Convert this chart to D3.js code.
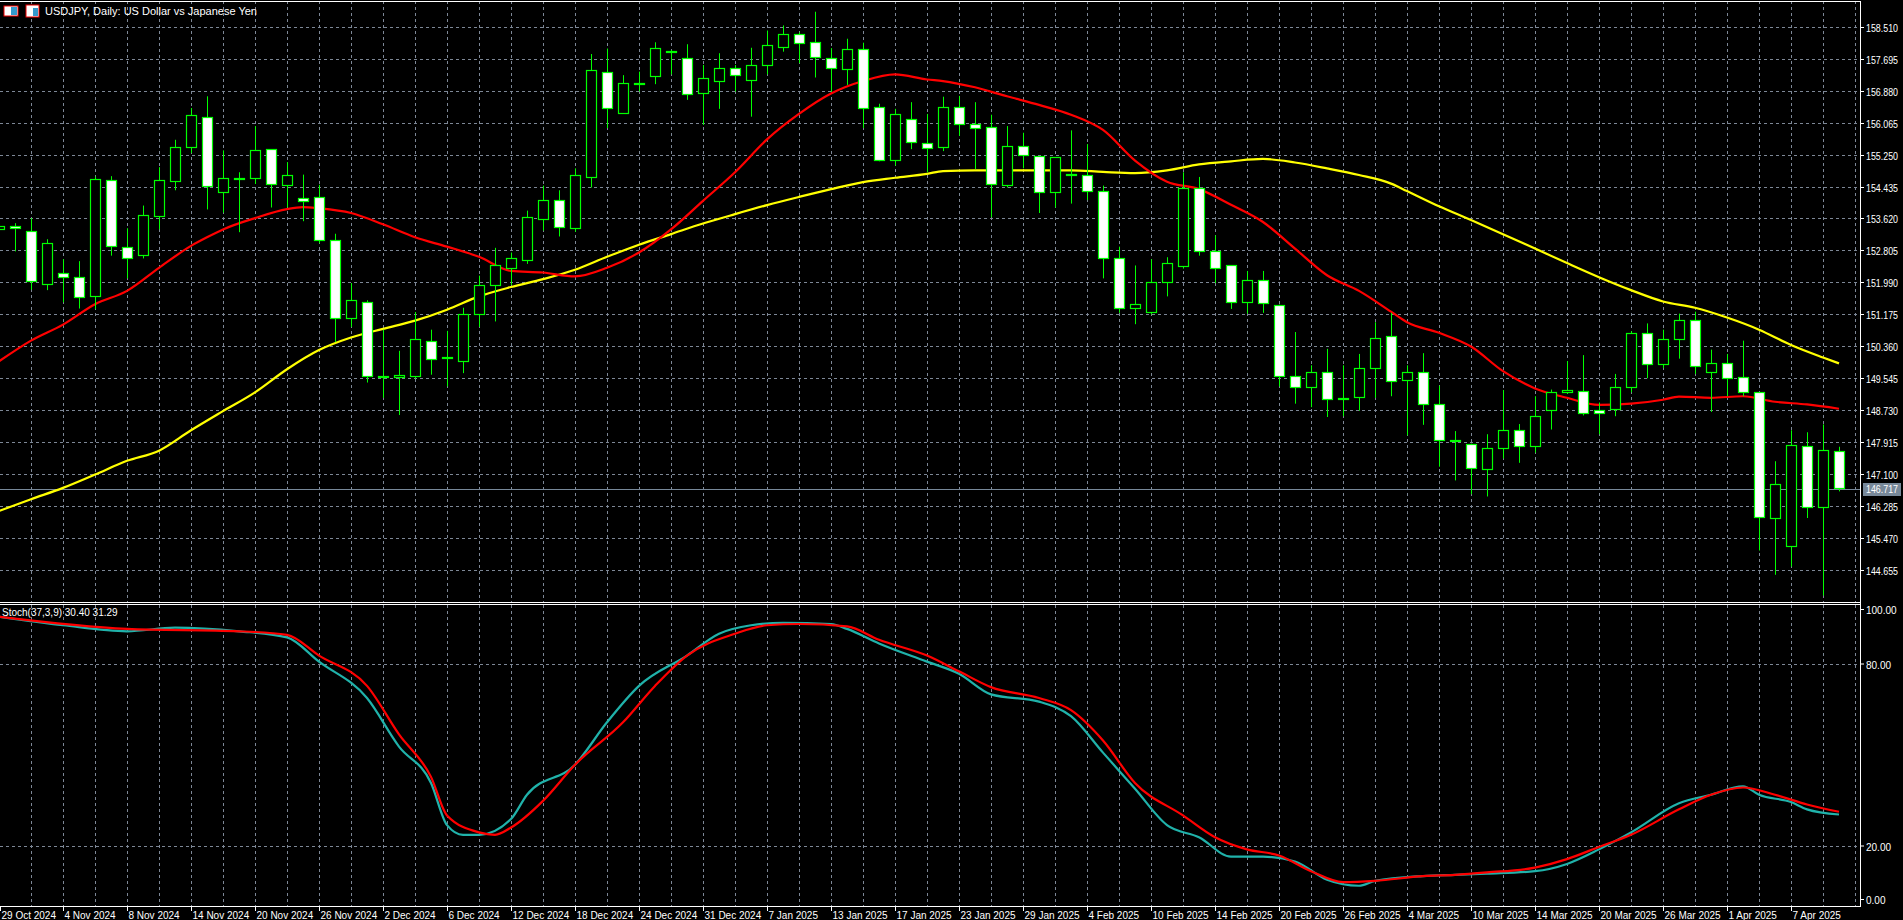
<!DOCTYPE html>
<html><head><meta charset="utf-8">
<script src="https://cdn.jsdelivr.net/npm/d3@7"></script>
<style>html,body{margin:0;padding:0;background:#000;overflow:hidden}svg{display:block}</style>
</head><body>
<script>
const openP=[153.36,153.42,153.29,151.95,152.24,152.12,151.62,154.60,152.90,152.69,153.67,154.56,155.44,156.20,154.29,154.65,154.65,155.39,154.49,154.15,154.18,153.06,151.07,151.49,149.58,149.58,149.58,150.48,150.06,149.98,
151.17,151.92,152.34,152.56,153.61,154.08,153.37,154.66,157.37,156.31,157.07,157.25,157.89,157.73,156.82,157.13,157.47,157.14,157.53,158.02,158.34,158.12,157.71,157.46,157.96,156.46,155.11,156.15,155.56,155.44,
156.46,156.03,155.95,154.47,155.46,155.21,154.29,154.75,154.74,154.32,152.60,151.33,151.22,151.99,152.41,154.39,152.78,152.42,151.48,152.04,151.42,149.60,149.31,149.69,149.04,149.04,149.79,150.63,149.49,
149.69,148.87,147.96,147.87,147.21,147.75,148.21,147.81,148.72,149.18,149.22,148.74,148.74,149.31,150.69,149.89,150.53,151.02,149.70,149.94,149.56,149.18,145.99,145.25,147.80,146.24,147.67];
const highP=[153.60,153.50,153.63,153.09,152.58,152.53,154.69,154.70,153.37,153.95,154.93,155.63,156.44,156.74,155.36,154.80,155.98,155.39,155.06,154.74,154.48,153.23,151.97,151.53,150.78,150.24,151.23,150.78,150.75,151.34,
152.16,152.87,152.75,153.82,154.46,154.34,154.90,157.82,157.96,157.28,157.37,158.12,157.92,158.07,157.54,157.84,157.54,157.98,158.42,158.55,158.37,158.90,157.97,158.21,158.11,156.55,156.42,156.59,156.29,156.73,
156.75,156.59,156.27,155.98,155.81,155.21,155.19,155.87,155.52,154.46,152.90,152.42,152.58,152.63,154.80,154.68,153.19,152.42,152.28,152.28,151.42,150.72,149.87,150.29,149.87,150.16,150.97,151.21,149.87,
150.18,149.35,148.19,147.87,148.11,149.24,148.37,149.08,149.25,149.98,150.13,148.92,149.65,150.74,150.94,150.78,151.19,151.24,150.27,150.16,150.50,149.18,147.42,148.21,148.16,148.36,147.79];
const lowP=[153.20,152.78,151.80,151.79,151.48,151.32,151.31,152.67,152.09,152.60,153.34,154.34,155.29,153.85,153.77,153.27,154.50,153.90,153.90,153.55,152.99,150.46,150.85,149.43,149.04,148.60,149.53,149.63,149.33,149.67,
150.85,150.99,151.92,152.46,153.31,153.16,153.28,154.41,155.93,156.31,156.86,157.05,157.30,156.65,156.01,156.42,156.86,156.22,157.30,157.88,157.59,157.22,156.85,157.03,155.93,155.08,154.97,155.39,154.80,155.34,
155.73,154.88,153.65,154.41,154.90,153.76,153.90,154.00,154.09,152.09,151.21,150.92,151.17,151.63,152.34,152.67,151.97,151.31,151.19,151.21,149.33,148.89,148.80,148.55,148.57,148.71,149.04,149.08,148.08,
148.35,147.28,146.93,146.58,146.52,147.49,147.38,147.64,148.23,149.14,148.59,148.11,148.57,149.18,149.54,149.80,150.04,149.65,148.68,149.08,149.08,145.14,144.52,144.73,145.97,143.99,146.65];
const closeP=[153.43,153.36,152.02,152.99,152.13,151.62,154.62,152.91,152.61,153.70,154.60,155.44,156.25,154.44,154.65,154.66,155.36,154.49,154.74,154.08,153.07,151.07,151.53,149.61,149.60,149.62,150.53,150.02,150.07,151.17,
151.92,152.43,152.60,153.65,154.09,153.40,154.73,157.40,156.46,157.07,157.08,157.97,157.88,156.82,157.20,157.47,157.30,157.53,158.04,158.34,158.12,157.73,157.46,157.96,156.46,155.11,156.28,155.57,155.44,156.46,
156.03,155.93,154.50,155.46,155.22,154.29,155.19,154.76,154.32,152.61,151.33,151.43,151.99,152.48,154.39,152.77,152.34,151.48,152.04,151.46,149.61,149.31,149.69,148.99,149.02,149.79,150.56,149.49,149.69,
148.88,147.96,147.96,147.25,147.75,148.21,147.81,148.57,149.18,149.23,148.67,148.67,149.31,150.69,149.89,150.53,151.02,149.84,149.94,149.55,149.18,145.99,146.85,147.83,146.24,147.70,146.72];

const maFastIdx=[0,2,4,6,8,10,12,13,14,16,18,19,20,22,24,26,28,30,32,34,36,38,40,42,44,46,48,50,52,54,56,58,59,61,63,65,67,69,71,73,75,77,79,81,83,85,87,88,90,92,94,96,98,100,102,104,105,107,109,111,113,115];
const maFastVal=[149.97,150.50,150.91,151.43,151.77,152.36,152.92,153.14,153.34,153.63,153.86,153.91,153.88,153.76,153.47,153.14,152.90,152.64,152.28,152.24,152.14,152.36,152.75,153.34,154.07,154.80,155.64,156.29,156.81,157.13,157.30,157.17,157.13,156.97,156.74,156.52,156.27,155.88,155.10,154.56,154.37,153.97,153.53,152.85,152.17,151.77,151.24,150.97,150.70,150.35,149.72,149.28,149.04,148.86,148.89,148.99,149.07,149.04,149.08,148.94,148.87,148.76];
const maSlowIdx=[0,2,4,6,8,10,12,14,16,18,20,22,24,26,28,30,32,34,36,38,40,42,44,46,48,50,52,54,56,58,59,61,63,65,67,69,71,73,75,77,79,81,83,85,87,88,90,92,94,96,98,100,102,104,106,108,110,112,114,115];
const maSlowVal=[146.15,146.45,146.74,147.08,147.43,147.69,148.21,148.70,149.18,149.77,150.26,150.58,150.80,151.01,151.29,151.63,151.87,152.07,152.31,152.64,152.95,153.22,153.49,153.73,153.96,154.17,154.37,154.55,154.66,154.76,154.83,154.85,154.85,154.85,154.85,154.81,154.78,154.85,155.00,155.08,155.14,155.05,154.90,154.73,154.51,154.32,153.93,153.58,153.22,152.85,152.48,152.12,151.79,151.50,151.34,151.09,150.78,150.39,150.07,149.92];

const stMainIdx=[0,4,8,11,15,18,20,23,25,27,28,29,30,32,33,36,38,40,43,45,47,49,52,53,55,58,60,62,65,67,69,71,73,75,77,79,81,83,85,86,89,91,93,96,98,100,102,105,107,109,110,112,113,115];
const stMainVal=[95.6,92.8,90.8,92.0,90.8,88.8,80.8,68.8,52.8,40.8,26.9,23.7,23.7,28.9,36.9,46.8,60.8,72.8,82.8,90.0,92.8,93.6,93.2,91.6,86.8,80.8,76.8,70.0,67.6,62.8,50.8,38.9,26.9,22.9,16.5,16.5,14.9,8.9,6.9,8.5,10.1,10.5,10.9,11.7,14.1,18.9,24.5,34.1,36.9,39.7,36.9,34.5,32.1,30.4];
const stSigIdx=[0,8,15,18,20,23,25,27,28,30,31,32,34,36,39,41,43,46,48,50,53,55,58,60,62,65,67,69,71,74,76,78,80,82,84,86,89,91,93,96,98,100,102,105,107,109,111,113,115];
const stSigVal=[95.6,91.6,90.8,89.6,82.8,72.8,56.8,42.8,30.1,24.5,23.7,26.1,34.9,46.8,60.8,72.8,82.8,90.0,92.8,93.2,92.4,88.0,82.8,77.6,72.4,68.8,64.8,54.8,40.8,30.1,22.9,18.9,16.9,11.7,8.1,8.5,10.1,10.5,11.3,12.9,15.7,19.7,23.7,32.1,36.9,39.3,36.9,33.7,31.3];

const priceTicks=[158.510,157.695,156.880,156.065,155.250,154.435,153.620,152.805,151.990,151.175,150.360,149.545,148.730,147.915,147.100,146.285,145.470,144.655];
const stochTicks=[100,80,20,0];
const dateLabels=["29 Oct 2024","4 Nov 2024","8 Nov 2024","14 Nov 2024","20 Nov 2024","26 Nov 2024","2 Dec 2024","6 Dec 2024","12 Dec 2024","18 Dec 2024","24 Dec 2024","31 Dec 2024","7 Jan 2025","13 Jan 2025","17 Jan 2025","23 Jan 2025","29 Jan 2025","4 Feb 2025","10 Feb 2025","14 Feb 2025","20 Feb 2025","26 Feb 2025","4 Mar 2025","10 Mar 2025","14 Mar 2025","20 Mar 2025","26 Mar 2025","1 Apr 2025","7 Apr 2025"];
const dateIdx=[0,4,8,12,16,20,24,28,32,36,40,44,48,52,56,60,64,68,72,76,80,84,88,92,96,100,104,108,112];
const bidPrice=146.717;

const W=1903,H=920,AX=1860;
const FONT="'Liberation Sans','DejaVu Sans',sans-serif";
const svg=d3.select("body").append("svg").attr("width",W).attr("height",H).style("background","#000");
const x=d3.scaleLinear().domain([0,116]).range([-1,1855]);
const y=d3.scaleLinear().domain([144.655,158.510]).range([569.5,27]);
const ys=d3.scaleLinear().domain([0,100]).range([906.7,603.4]);
const gridC="#7d8796";

svg.append("clipPath").attr("id","cm").append("rect").attr("x",0).attr("y",1).attr("width",AX).attr("height",601);
svg.append("clipPath").attr("id","cs").append("rect").attr("x",0).attr("y",605).attr("width",AX).attr("height",301);

const vgrid=d3.range(2,117,2);
const gm=svg.append("g").attr("clip-path","url(#cm)");
gm.selectAll("line.v").data(vgrid).join("line").attr("x1",d=>Math.round(x(d))+.5).attr("x2",d=>Math.round(x(d))+.5).attr("y1",1).attr("y2",602).attr("stroke",gridC).attr("stroke-dasharray","3,3");
gm.selectAll("line.h").data(priceTicks).join("line").attr("x1",0).attr("x2",AX).attr("y1",d=>Math.round(y(d))+.5).attr("y2",d=>Math.round(y(d))+.5).attr("stroke",gridC).attr("stroke-dasharray","3,3");
gm.append("line").attr("x1",0).attr("x2",AX).attr("y1",Math.round(y(bidPrice))+.5).attr("y2",Math.round(y(bidPrice))+.5).attr("stroke","#778899");

const gs=svg.append("g").attr("clip-path","url(#cs)");
gs.selectAll("line.v").data(vgrid).join("line").attr("x1",d=>Math.round(x(d))+.5).attr("x2",d=>Math.round(x(d))+.5).attr("y1",605).attr("y2",906).attr("stroke",gridC).attr("stroke-dasharray","3,3");
gs.selectAll("line.h").data([80,20]).join("line").attr("x1",0).attr("x2",AX).attr("y1",d=>Math.round(ys(d))+.5).attr("y2",d=>Math.round(ys(d))+.5).attr("stroke",gridC).attr("stroke-dasharray","3,3");

const line=d3.line().x(d=>x(d[0])).y(d=>y(d[1])).curve(d3.curveMonotoneX);
gm.append("path").attr("d",line(maSlowIdx.map((d,i)=>[d,maSlowVal[i]]))).attr("fill","none").attr("stroke","#ffff00").attr("stroke-width",2.2);
gm.append("path").attr("d",line(maFastIdx.map((d,i)=>[d,maFastVal[i]]))).attr("fill","none").attr("stroke","#ff0000").attr("stroke-width",2.2);

const idx=d3.range(openP.length);
const cg=gm.append("g");
cg.selectAll("line.w").data(idx).join("line").attr("x1",i=>Math.round(x(i))+.5).attr("x2",i=>Math.round(x(i))+.5)
 .attr("y1",i=>y(highP[i])).attr("y2",i=>y(lowP[i])).attr("stroke","#00ff00");
cg.selectAll("rect").data(idx).join("rect").attr("x",i=>Math.round(x(i))-4.5).attr("width",10)
 .attr("y",i=>Math.round(y(Math.max(openP[i],closeP[i])))+.5)
 .attr("height",i=>Math.max(1,Math.round(Math.abs(y(openP[i])-y(closeP[i])))))
 .attr("fill",i=>closeP[i]>=openP[i]?"#000":"#fff").attr("stroke","#00ff00").attr("stroke-width",1.2);

const sline=d3.line().x(d=>x(d[0])).y(d=>ys(d[1])).curve(d3.curveMonotoneX);
gs.append("path").attr("d",sline(stMainIdx.map((d,i)=>[d,stMainVal[i]]))).attr("fill","none").attr("stroke","#20b2aa").attr("stroke-width",2.2);
gs.append("path").attr("d",sline(stSigIdx.map((d,i)=>[d,stSigVal[i]]))).attr("fill","none").attr("stroke","#ff0000").attr("stroke-width",2.2);

const bc="#ffffff";
svg.append("line").attr("x1",0).attr("x2",AX).attr("y1",1.5).attr("y2",1.5).attr("stroke",bc);
svg.append("line").attr("x1",0).attr("x2",AX).attr("y1",602.5).attr("y2",602.5).attr("stroke",bc);
svg.append("line").attr("x1",0).attr("x2",AX).attr("y1",604.5).attr("y2",604.5).attr("stroke",bc);
svg.append("line").attr("x1",0).attr("x2",AX).attr("y1",906.5).attr("y2",906.5).attr("stroke",bc);
svg.append("line").attr("x1",AX+.5).attr("x2",AX+.5).attr("y1",1).attr("y2",907).attr("stroke",bc);

const pa=svg.append("g").attr("font-family",FONT).attr("font-size",10).attr("fill","#fff");
priceTicks.forEach(t=>{const yy=Math.round(y(t))+.5;
 pa.append("line").attr("x1",AX).attr("x2",AX+4).attr("y1",yy).attr("y2",yy).attr("stroke","#fff");
 pa.append("text").attr("x",AX+6).attr("y",yy+4).attr("textLength",32).attr("lengthAdjust","spacingAndGlyphs").text(t.toFixed(3));});
const by=Math.round(y(bidPrice));
pa.append("rect").attr("x",AX+3).attr("y",by-6).attr("width",38).attr("height",13).attr("fill","#778899");
pa.append("text").attr("x",AX+6).attr("y",by+4).attr("textLength",32).attr("lengthAdjust","spacingAndGlyphs").text(bidPrice.toFixed(3));

stochTicks.forEach(t=>{const yy=Math.round(ys(t))+.5; const ty=t===100?610:t===0?900:yy;
 pa.append("line").attr("x1",AX).attr("x2",AX+4).attr("y1",ty-.5).attr("y2",ty-.5).attr("stroke","#fff");
 pa.append("text").attr("x",AX+6).attr("y",ty+4).text(t.toFixed(2));});

dateIdx.forEach((d,i)=>{const xx=Math.max(0,Math.round(x(d)))+.5;
 pa.append("line").attr("x1",xx).attr("x2",xx).attr("y1",907).attr("y2",911).attr("stroke","#fff");
 pa.append("text").attr("x",xx+1).attr("y",919).attr("font-size",10).text(dateLabels[i]);});

const t=svg.append("g");
t.append("rect").attr("x",4).attr("y",6).attr("width",14).attr("height",10).attr("fill","#fff").attr("stroke","#e00");
t.append("rect").attr("x",11).attr("y",7).attr("width",6).attr("height",8).attr("fill","#39c");
t.append("rect").attr("x",26).attr("y",5).attr("width",13).attr("height",12).attr("fill","#fff").attr("stroke","#e00");
t.append("rect").attr("x",33).attr("y",8).attr("width",5).attr("height",8).attr("fill","#39c");
t.append("text").attr("x",45).attr("y",15).attr("font-family",FONT).attr("font-size",11).attr("fill","#fff").text("USDJPY, Daily:  US Dollar vs Japanese Yen");
svg.append("text").attr("x",2).attr("y",616).attr("font-family",FONT).attr("font-size",10).attr("fill","#fff").text("Stoch(37,3,9) 30.40 31.29");
</script>
</body></html>
